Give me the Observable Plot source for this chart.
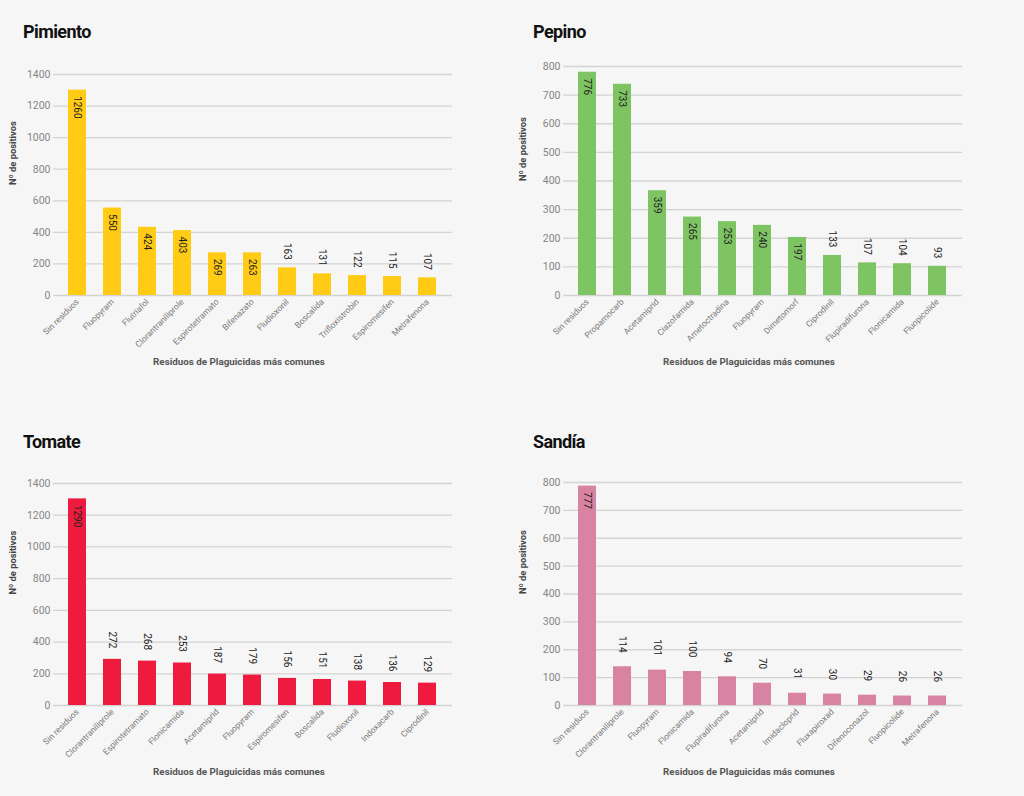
<!DOCTYPE html>
<html><head><meta charset="utf-8">
<script src="https://cdn.jsdelivr.net/npm/d3@7"></script>
<script src="https://cdn.jsdelivr.net/npm/@observablehq/plot@0.6"></script>
<style>
body{margin:0;background:#f6f6f6;font-family:Roboto,"Noto Sans",sans-serif;}
#root{position:relative;width:1024px;height:796px;overflow:hidden;}
.panel{position:absolute;width:510px;height:400px;}
.title{position:absolute;left:23px;top:23px;font-weight:700;font-size:18px;line-height:18px;letter-spacing:-0.6px;color:#111;}
.panel svg{position:absolute;left:0;top:50px;}
</style></head><body><div id="root"></div>
<script>
// ---- data ----
const yTitle = "Nº de positivos";
const xTitle = "Residuos de Plaguicidas más comunes";

const pimientoNames = ["Sin residuos","Fluopyram","Flutriafol","Clorantraniliprole","Espirotetramato","Bifenazato","Fludioxonil","Boscalida","Trifloxistrobin","Espiromesifen","Metrafenona"];
const pimientoLabels = [1260,550,424,403,269,263,163,131,122,115,107];
const pimientoBars = [1301,554,432,411,270,270,175,137,126,120,112];

const pepinoNames = ["Sin residuos","Propamocarb","Acetamiprid","Ciazofamida","Ametoctradina","Fluopyram","Dimetomorf","Ciprodinil","Flupiradifurona","Flonicamida","Fluopicolide"];
const pepinoLabels = [776,733,359,265,253,240,197,133,107,104,93];
const pepinoBars = [780,738,366,274,258,245,203,140,114,111,102];

const tomateNames = ["Sin residuos","Clorantraniliprole","Espirotetramato","Flonicamida","Acetamiprid","Fluopyram","Espiromesifen","Boscalida","Fludioxonil","Indoxacarb","Ciprodinil"];
const tomateLabels = [1290,272,268,253,187,179,156,151,138,136,129];
const tomateBars = [1303,291,280,268,198,192,171,164,154,145,141];

const sandiaNames = ["Sin residuos","Clorantraniliprole","Fluopyram","Flonicamida","Flupiradifurona","Acetamiprid","Imidacloprid","Fluxapiroxad","Difenoconazol","Fluopicolide","Metrafenona"];
const sandiaLabels = [777,114,101,100,94,70,31,30,29,26,26];
const sandiaBars = [787,139,127,122,103,80,44,41,37,34,34];

const bigTicks = [0,200,400,600,800,1000,1200,1400];
const smallTicks = [0,100,200,300,400,500,600,700,800];

// ---- panels ----
const panels = [
  {title:"Pimiento", names:pimientoNames, labels:pimientoLabels, bars:pimientoBars, ticks:bigTicks, color:"#ffcb14", inside:6, gap:8, left:0, top:0, mt:24},
  {title:"Pepino", names:pepinoNames, labels:pepinoLabels, bars:pepinoBars, ticks:smallTicks, color:"#7ec462", inside:7, gap:8, left:510, top:0, mt:16},
  {title:"Tomate", names:tomateNames, labels:tomateLabels, bars:tomateBars, ticks:bigTicks, color:"#ee1b3e", inside:1, gap:11, left:0, top:410, mt:23},
  {title:"Sandía", names:sandiaNames, labels:sandiaLabels, bars:sandiaBars, ticks:smallTicks, color:"#d983a3", inside:1, gap:14, left:510, top:410, mt:22}
];

const root = document.getElementById("root");
for (const p of panels) {
  const data = p.names.map((n,i)=>({name:n, label:p.labels[i], bar:p.bars[i], inside:i<p.inside}));
  const div = document.createElement("div");
  div.className = "panel";
  div.style.left = p.left + "px";
  div.style.top = p.top + "px";
  const t = document.createElement("div");
  t.className = "title";
  t.textContent = p.title;
  div.appendChild(t);
  const maxY = p.ticks[p.ticks.length-1];
  const svg = Plot.plot({
    width:510, height:340,
    marginLeft:53, marginRight:58, marginTop:p.mt, marginBottom:95,
    style:{background:"transparent", fontFamily:"Roboto, 'Noto Sans', sans-serif", overflow:"visible"},
    x:{domain:p.names, paddingInner:0.48, paddingOuter:0.385, axis:null},
    y:{domain:[0,maxY], axis:null},
    marks:[
      Plot.ruleY(p.ticks, {stroke:"#d3d3d3", strokeWidth:1.3}),
      Plot.axisY({ticks:p.ticks, tickSize:0, tickPadding:3, fontSize:10.5, color:"#858585", tickFormat:d=>String(d), label:null}),
      Plot.barY(data, {x:"name", y:"bar", fill:p.color}),
      Plot.axisX({tickRotate:-45, tickSize:0, tickPadding:5, fontSize:8.5, color:"#7a7a7a", label:null}),
      Plot.text(data.filter(d=>d.inside), {x:"name", y:"bar", text:d=>String(d.label), rotate:90, textAnchor:"start", lineAnchor:"middle", dy:6, fontSize:10, fill:"#222"}),
      Plot.text(data.filter(d=>!d.inside), {x:"name", y:"bar", text:d=>String(d.label), rotate:90, textAnchor:"end", lineAnchor:"middle", dy:-p.gap, fontSize:10, fill:"#222"}),
      Plot.text([yTitle], {text:d=>d, frameAnchor:"left", rotate:-90, dx:-40, fontSize:9.3, fontWeight:700, fill:"#444"}),
      Plot.text([xTitle], {text:d=>d, frameAnchor:"bottom", dx:-14, dy:69, fontSize:9.8, fontWeight:700, fill:"#555"})
    ]
  });
  div.appendChild(svg);
  root.appendChild(div);
}
</script>
</body></html>
